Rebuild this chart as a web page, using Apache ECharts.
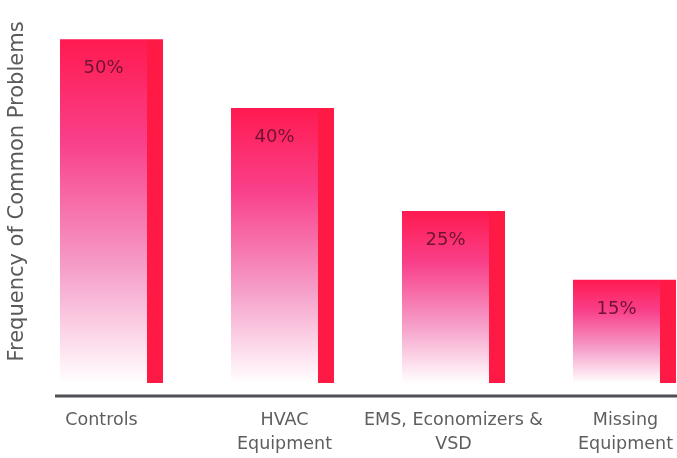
<!DOCTYPE html>
<html>
<head>
<meta charset="utf-8">
<script src="https://cdn.jsdelivr.net/npm/echarts@6/dist/echarts.min.js"></script>
<style>
  html, body { margin: 0; padding: 0; background: #ffffff; }
  #chart { width: 677px; height: 458px; }
</style>
</head>
<body>
<div id="chart"></div>
<script>
// Share of common problems found, by category
const categories = ['Controls', 'HVAC\nEquipment', 'EMS, Economizers &\nVSD', 'Missing\nEquipment'];
const frequency = [50, 40, 25, 15];
const yAxisTitle = 'Frequency of Common Problems';

const FONT = '"DejaVu Sans", Verdana, sans-serif';

const chart = echarts.init(document.getElementById('chart'), null, { renderer: 'canvas' });

// Per-label nudges so each caption sits under its bar the way it is laid out
const categoryItems = categories.map((name, i) => {
  const pad = [[0, 20, 0, 0], [0, 0, 0, 4], [0, 0, 0, 0], [0, 0, 0, 2]][i];
  return { value: name, textStyle: { padding: pad } };
});

chart.setOption({
  animation: false,
  backgroundColor: '#ffffff',
  grid: { left: 26, right: -33, top: 0, bottom: 75, containLabel: false, outerBoundsMode: 'none' },
  xAxis: {
    type: 'category',
    data: categoryItems,
    axisLine: { show: false },
    axisTick: { show: false },
    axisLabel: {
      margin: 25,
      fontFamily: FONT,
      fontSize: 17.5,
      lineHeight: 24,
      color: '#5e5e5e',
      interval: 0
    }
  },
  yAxis: {
    type: 'value',
    min: 0,
    max: 55.7,
    axisLine: { show: false },
    axisTick: { show: false },
    axisLabel: { show: false },
    splitLine: { show: false },
    name: yAxisTitle,
    nameLocation: 'middle',
    nameRotate: 90,
    nameGap: -2,
    nameTextStyle: { fontFamily: FONT, fontSize: 21, color: '#5a5a5a' }
  },
  series: [
    {
      // faded body of each column
      type: 'bar',
      data: frequency,
      barWidth: 87,
      barGap: '0%',
      itemStyle: {
        color: new echarts.graphic.LinearGradient(0, 0, 0, 1, [
          { offset: 0, color: '#ff1a50' },
          { offset: 0.3, color: '#f9408a' },
          { offset: 0.65, color: '#f59ac6' },
          { offset: 0.9, color: '#fde2ef' },
          { offset: 1, color: '#ffffff' }
        ])
      },
      label: {
        show: true,
        position: 'insideTop',
        distance: 20,
        formatter: '{c}%',
        fontFamily: FONT,
        fontSize: 18,
        color: '#6e1432'
      }
    },
    {
      // solid edge strip on the right of each column
      type: 'bar',
      data: frequency,
      barWidth: 16,
      barGap: '0%',
      itemStyle: { color: '#ff1a45' }
    }
  ],
  graphic: [
    {
      type: 'line',
      shape: { x1: 55, y1: 396, x2: 677, y2: 396 },
      style: { stroke: '#4d4f52', lineWidth: 3 }
    }
  ]
});
</script>
</body>
</html>
